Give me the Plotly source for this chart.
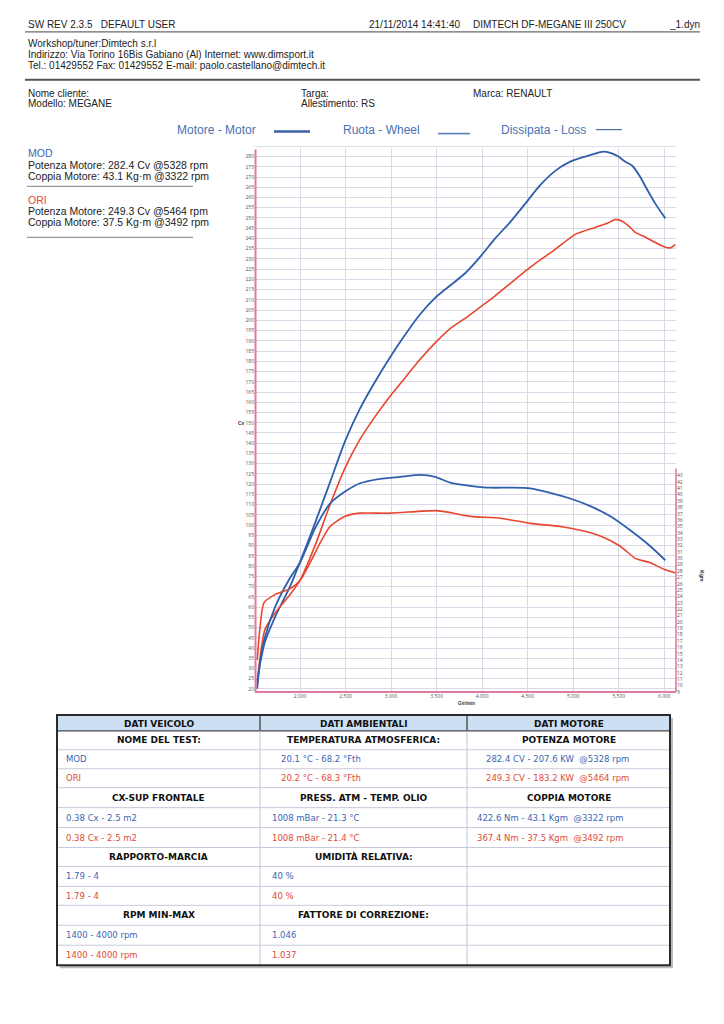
import plotly.graph_objects as go

W, H = 724, 1024

# ---------------- data ----------------
mod_power_rpm = [1530, 1560, 1615, 1725, 1890, 2000, 2165, 2330, 2495, 2660, 2824, 2989, 3154, 3319, 3484, 3648,
                 3813, 3978, 4143, 4308, 4473, 4637, 4802, 4967, 5132, 5297, 5330, 5407, 5495, 5571, 5648, 5736,
                 5791, 5901, 6011]
mod_power_cv = [24, 32, 43, 55, 70, 82, 101, 121, 141, 157, 170, 182, 193, 203, 211, 217,
                223, 231, 240, 248, 257, 266, 273, 277.5, 280, 282.2, 282.4, 281.8, 280, 277.5, 275.5, 270,
                265.5, 257, 249.8]

ori_power_rpm = [1530, 1560, 1615, 1725, 1890, 2000, 2165, 2330, 2495, 2660, 2824, 2989, 3154, 3319, 3484, 3648,
                 3813, 3978, 4143, 4308, 4473, 4637, 4802, 5022, 5242, 5380, 5464, 5538, 5610, 5681, 5800, 5901,
                 6011, 6070, 6121]
ori_power_cv = [22, 35, 49, 57, 66, 73, 90, 110, 128, 142, 153, 163, 172, 181, 189, 196,
                201, 206.5, 212, 218, 224, 229.5, 234.7, 242, 245.4, 247.5, 249.3, 248.4, 246, 243, 240.5, 238,
                235.7, 235.5, 237]

mod_torque_rpm = [1530, 1560, 1615, 1725, 1890, 2000, 2165, 2330, 2495, 2660, 2879, 3099, 3322, 3484, 3648, 3868,
                  4088, 4308, 4527, 4747, 4967, 5187, 5407, 5626, 5846, 6011]
mod_torque_kgm = [9.5, 13.5, 17.6, 22.3, 26.9, 29.3, 34.7, 38.6, 40.5, 41.8, 42.5, 42.8, 43.1, 42.8, 41.9, 41.4,
                  41.1, 41.1, 41.0, 40.3, 39.4, 38.2, 36.6, 34.4, 31.9, 29.7]

ori_torque_rpm = [1530, 1560, 1604, 1725, 1890, 2000, 2110, 2220, 2330, 2495, 2660, 2989, 3492, 3648, 3868, 4198,
                  4527, 4857, 5077, 5297, 5516, 5681, 5846, 6011, 6121]
ori_torque_kgm = [14.0, 19.0, 23.0, 24.3, 25.2, 26.5, 29.3, 32.4, 35.0, 36.6, 37.1, 37.1, 37.5, 37.2, 36.6, 36.3,
                  35.5, 35.0, 34.4, 33.5, 31.9, 30.0, 29.3, 28.2, 27.7]

cv_ticks = list(range(20, 281, 5))
kgm_ticks = list(range(9, 44))
rpm_ticks = [2000, 2500, 3000, 3500, 4000, 4500, 5000, 5500, 6000]
rpm_tick_text = ["2.000", "2.500", "3.000", "3.500", "4.000", "4.500", "5.000", "5.500", "6.000"]

table_head = ["DATI VEICOLO", "DATI AMBIENTALI", "DATI MOTORE"]
table_rows = [
    ("h", "NOME DEL TEST:", "TEMPERATURA ATMOSFERICA:", "POTENZA MOTORE"),
    ("b", "MOD", "20.1 °C - 68.2 °Fth", "282.4 CV - 207.6 KW  @5328 rpm"),
    ("r", "ORI", "20.2 °C - 68.3 °Fth", "249.3 CV - 183.2 KW  @5464 rpm"),
    ("h", "CX-SUP FRONTALE", "PRESS. ATM - TEMP. OLIO", "COPPIA MOTORE"),
    ("b", "0.38 Cx - 2.5 m2", "1008 mBar - 21.3 °C", "422.6 Nm - 43.1 Kgm  @3322 rpm"),
    ("r", "0.38 Cx - 2.5 m2", "1008 mBar - 21.4 °C", "367.4 Nm - 37.5 Kgm  @3492 rpm"),
    ("h", "RAPPORTO-MARCIA", "UMIDITÀ RELATIVA:", ""),
    ("b", "1.79 - 4", "40 %", ""),
    ("r", "1.79 - 4", "40 %", ""),
    ("h", "RPM MIN-MAX", "FATTORE DI CORREZIONE:", ""),
    ("b", "1400 - 4000 rpm", "1.046", ""),
    ("r", "1400 - 4000 rpm", "1.037", ""),
]

BLUE = "#2f5fab"
RED = "#e8452f"
TBLUE = "#3a66b4"
TRED = "#de4a36"
PINK = "#e07a9e"


def px(x):
    return x / W


def py(y):
    return 1 - y / H


annotations = []
shapes = []


def text(x, y, s, size=10, color="#222", anchor="left", family="Liberation Sans, Arial", bold=False, angle=0):
    if bold:
        s = "<b>" + s + "</b>"
    annotations.append(dict(x=px(x), y=py(y), xref="paper", yref="paper", text=s, showarrow=False,
                            xanchor=anchor, yanchor="middle", textangle=angle,
                            font=dict(size=size, color=color, family=family), borderpad=0))


def line(x0, y0, x1, y1, color="#333", width=1):
    shapes.append(dict(type="line", xref="paper", yref="paper", x0=px(x0), y0=py(y0), x1=px(x1), y1=py(y1),
                       line=dict(color=color, width=width)))


def rect(x0, y0, x1, y1, fill=None, color="#333", width=1):
    shapes.append(dict(type="rect", xref="paper", yref="paper", x0=px(x0), y0=py(y0), x1=px(x1), y1=py(y1),
                       fillcolor=fill if fill else "rgba(0,0,0,0)", line=dict(color=color, width=width),
                       layer="below" if fill else "above"))


# ---------------- header ----------------
text(27, 25, "SW REV 2.3.5   DEFAULT USER", 10)
text(368, 25, "21/11/2014 14:41:40", 10)
text(472, 25, "DIMTECH DF-MEGANE III 250CV", 10)
text(668, 25, "_1.dyn", 10)
line(25, 32, 700, 32, "#444", 1)
text(27, 44, "Workshop/tuner:Dimtech s.r.l", 10)
text(27, 55, "Indirizzo: Via Torino 16Bis Gabiano (Al) Internet: www.dimsport.it", 10)
text(27, 66, "Tel.: 01429552 Fax: 01429552 E-mail: paolo.castellano@dimtech.it", 10)
line(25, 80, 700, 80, "#555", 2)
text(27, 94, "Nome cliente:", 10)
text(27, 104, "Modello: MEGANE", 10)
text(300, 94, "Targa:", 10)
text(300, 104, "Allestimento: RS", 10)
text(472, 94, "Marca: RENAULT", 10)

# legend
LEG = "#4a72b4"
text(176, 130, "Motore - Motor", 12, LEG)
line(274, 132, 310, 132, "#3d62a8", 2.5)
text(342, 130, "Ruota - Wheel", 12, LEG)
line(438, 134, 470, 134, "#5a7cc0", 1.6)
text(500, 130, "Dissipata - Loss", 12, LEG)
line(596, 130, 622, 130, "#4a72b4", 1.2)

# left info
text(27, 153, "MOD", 10.5, TBLUE)
text(27, 165, "Potenza Motore: 282.4 Cv @5328 rpm", 10.5)
text(27, 177, "Coppia Motore: 43.1 Kg·m @3322 rpm", 10.5)
line(27, 187, 193, 187, "#999", 1.2)
text(27, 201, "ORI", 10.5, TRED)
text(27, 212, "Potenza Motore: 249.3 Cv @5464 rpm", 10.5)
text(27, 223, "Coppia Motore: 37.5 Kg·m @3492 rpm", 10.5)
line(27, 238, 193, 238, "#999", 1.2)

# ---------------- chart ----------------
X0, X1, Y0, Y1 = 255, 676, 148, 694
fig = go.Figure()
fig.add_trace(go.Scatter(x=mod_power_rpm, y=mod_power_cv, mode="lines", line=dict(color=BLUE, width=1.8, shape="spline", smoothing=0.6), yaxis="y"))
fig.add_trace(go.Scatter(x=ori_power_rpm, y=ori_power_cv, mode="lines", line=dict(color=RED, width=1.6, shape="spline", smoothing=0.6), yaxis="y"))
fig.add_trace(go.Scatter(x=mod_torque_rpm, y=mod_torque_kgm, mode="lines", line=dict(color=BLUE, width=1.8, shape="spline", smoothing=0.6), yaxis="y2"))
fig.add_trace(go.Scatter(x=ori_torque_rpm, y=ori_torque_kgm, mode="lines", line=dict(color=RED, width=1.6, shape="spline", smoothing=0.6), yaxis="y2"))

# frame lines (pink axes)
line(X0 + 0.5, Y0 + 2, X0 + 0.5, Y1, PINK, 2)
line(X0, Y1, X1, Y1, PINK, 2)
line(X1, 470, X1, Y1, PINK, 1.6)
line(X0, Y0 - 1, X1, Y0 - 1, "#dddde6", 1)

text(237, 424, "Cv", 5, "#333", bold=True)
text(466, 706, "Giri/min", 4.5, "#333", anchor="center", bold=True)
text(702, 578, "Kgm", 5, "#333", anchor="center", bold=True, angle=90)

# ---------------- table ----------------
TX0, TX1 = 57, 670
cols = [57, 260, 467, 670]
TY0 = 717
row_edges = [717, 733, 752, 771, 790, 810, 830, 850, 869, 889, 908, 928, 948, 968]
# shadow
rect(TX0 + 3, TY0 + 3, TX1 + 3, row_edges[-1] + 3, fill="#bdbdbd", color="#bdbdbd", width=0)
rect(TX0, TY0, TX1, row_edges[-1], fill="#ffffff", color="#ffffff", width=0)
rect(TX0, TY0, TX1, row_edges[1], fill="#cddff2", color="#cddff2", width=0)
for e in row_edges[2:-1]:
    line(TX0, e, TX1, e, "#c9c9dc", 1)
line(TX0, row_edges[1], TX1, row_edges[1], "#444", 1.2)
for c in cols[1:-1]:
    line(c, TY0, c, row_edges[1], "#333", 1.2)
    line(c, row_edges[1], c, row_edges[-1], "#c3c3d6", 1)
rect(TX0, TY0, TX1, row_edges[-1], None, "#2a2a2a", 2)

TF = "Verdana, DejaVu Sans, sans-serif"
for i, h in enumerate(table_head):
    text((cols[i] + cols[i + 1]) / 2, (row_edges[0] + row_edges[1]) / 2 + 1, h, 9, "#111", "center", TF, True)
for r, (kind, a, b, c) in enumerate(table_rows):
    yc = (row_edges[r + 1] + row_edges[r + 2]) / 2
    vals = [a, b, c]
    if kind == "h":
        for i, v in enumerate(vals):
            if v:
                text((cols[i] + cols[i + 1]) / 2, yc, v, 9, "#111", "center", TF, True)
    else:
        col = TBLUE if kind == "b" else TRED
        if a:
            text(65, yc, a, 8.5, col, "left", TF)
        if b:
            xb = 280 if r in (1, 2) else 271
            text(xb, yc, b, 8.5, col, "left", TF)
        if c:
            xc = 485 if r in (1, 2) else 476
            text(xc, yc, c, 8.5, col, "left", TF)

fig.update_layout(
    width=W, height=H, margin=dict(l=0, r=0, t=0, b=0),
    paper_bgcolor="white", plot_bgcolor="white", showlegend=False,
    xaxis=dict(domain=[px(X0), px(X1)], range=[1506, 6128], tickvals=rpm_ticks, ticktext=rpm_tick_text,
               tickfont=dict(size=5, color="#555"), showgrid=True, gridcolor="#d9d9e6", gridwidth=1,
               zeroline=False, showline=False, ticks=""),
    yaxis=dict(domain=[py(Y1), py(Y0)], range=[18.54, 284.38], tickvals=cv_ticks,
               tickfont=dict(size=5, color="#555"), showgrid=True, gridcolor="#dcd8e8", gridwidth=1,
               zeroline=False, showline=False, ticks=""),
    yaxis2=dict(domain=[py(Y1), py(Y0)], overlaying="y", side="right", range=[9.0, 94.55], tickvals=kgm_ticks,
                tickfont=dict(size=5, color="#555"), showgrid=False, zeroline=False, showline=False, ticks=""),
    annotations=annotations, shapes=shapes,
)

fig.write_html("out.html")
